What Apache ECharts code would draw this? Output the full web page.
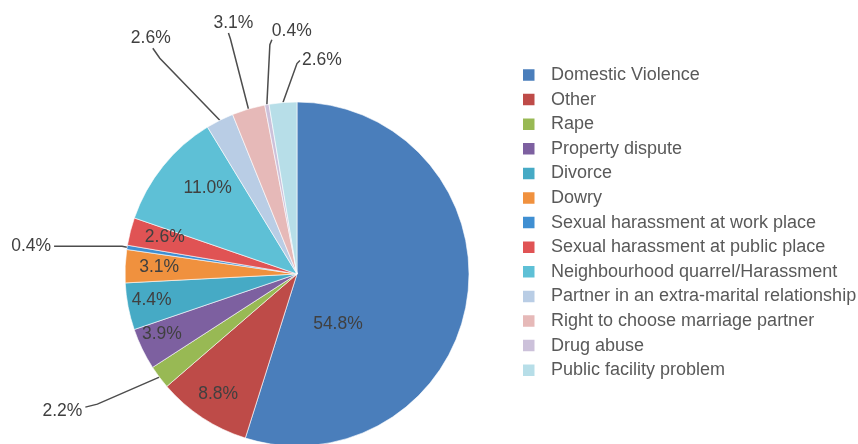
<!DOCTYPE html>
<html>
<head>
<meta charset="utf-8">
<script src="https://cdn.jsdelivr.net/npm/echarts@6/dist/echarts.min.js"></script>
<style>
  html, body { margin: 0; padding: 0; background: #fff; }
  #chart { width: 858px; height: 444px; }
</style>
</head>
<body>
<div id="chart"></div>
<script>
const categories = [
  'Domestic Violence',
  'Other',
  'Rape',
  'Property dispute',
  'Divorce',
  'Dowry',
  'Sexual harassment at work place',
  'Sexual harassment at public place',
  'Neighbourhood quarrel/Harassment',
  'Partner in an extra-marital relationship',
  'Right to choose marriage partner',
  'Drug abuse',
  'Public facility problem'
]
const shares = [54.8, 8.8, 2.2, 3.9, 4.4, 3.1, 0.4, 2.6, 11.0, 2.6, 3.1, 0.4, 2.6]

const palette = ['#4a7ebb', '#be4b48', '#98b954', '#7d60a0', '#46aac5', '#f0913e', '#3f8fd2',
  '#e05354', '#5ec0d6', '#b9cde5', '#e6b9b8', '#ccc1da', '#b7dee8']

// nudges for labels drawn inside the slices
const insideShift = { 0: [-47, 37], 1: [-30, 46], 3: [-55, 21], 4: [-58, 9], 5: [-49, -3], 7: [-46, -15], 8: [-20, -30] }

// leader lines for the small slices, legs measured from the slice edge
const guide = {
  2: { legs: [[-62, 27], [-12, 3]], text: [-3, 4], align: 'right', va: 'middle' },
  6: { legs: [[-5, -1], [-68, 0]], text: [-3, 0], align: 'right', va: 'middle' },
  9: { legs: [[-60, -62], [-7, -10]], text: [-2, -1], align: 'center', va: 'bottom' },
  10: { legs: [[-18, -70], [-2, -6]], text: [5, -1], align: 'center', va: 'bottom' },
  11: { legs: [[3, -60], [2, -5]], text: [0, 1], align: 'left', va: 'bottom' },
  12: { legs: [[14, -39], [3, -3]], text: [2, 0], align: 'left', va: 'middle' }
}

const font = '"Liberation Sans", Arial, sans-serif'

const pieData = categories.map((name, i) => {
  const item = { name: name, value: shares[i] }
  if (guide[i]) {
    item.label = { position: 'outside' }
    item.labelLine = { show: true, length: 15, length2: 15 }
  }
  return item
})

const chart = echarts.init(document.getElementById('chart'))
chart.setOption({
  animation: false,
  backgroundColor: '#fff',
  color: palette,
  legend: {
    orient: 'vertical',
    left: 521,
    top: 66,
    padding: 0,
    icon: 'rect',
    itemWidth: 13.5,
    itemHeight: 13.5,
    itemGap: 6.6,
    selectedMode: false,
    data: categories,
    textStyle: {
      fontFamily: font,
      fontSize: 18,
      lineHeight: 18,
      color: '#595959',
      padding: [0, 0, 0, 10.5]
    }
  },
  series: [
    {
      type: 'pie',
      center: [297, 274],
      radius: 172,
      startAngle: 90,
      clockwise: true,
      avoidLabelOverlap: false,
      data: pieData,
      itemStyle: {
        borderColor: '#fff',
        borderWidth: 0.6
      },
      label: {
        show: true,
        position: 'inside',
        fontFamily: font,
        fontSize: 17.5,
        color: '#404040',
        formatter: function(p) {
          return p.value.toFixed(1) + '%'
        }
      },
      labelLine: {
        show: false,
        lineStyle: {
          color: '#4d4d4d',
          width: 1.5
        }
      },
      labelLayout: function(params) {
        const i = params.dataIndex
        if (insideShift[i]) {
          return { dx: insideShift[i][0], dy: insideShift[i][1] }
        }
        const g = guide[i]
        if (!g || !params.labelLinePoints) {
          return {}
        }
        const p0 = params.labelLinePoints[0]
        const p1 = [p0[0] + g.legs[0][0], p0[1] + g.legs[0][1]]
        const p2 = [p1[0] + g.legs[1][0], p1[1] + g.legs[1][1]]
        return {
          x: p2[0] + g.text[0],
          y: p2[1] + g.text[1],
          align: g.align,
          verticalAlign: g.va,
          labelLinePoints: [p0, p1, p2]
        }
      }
    }
  ]
})
</script>
</body>
</html>
